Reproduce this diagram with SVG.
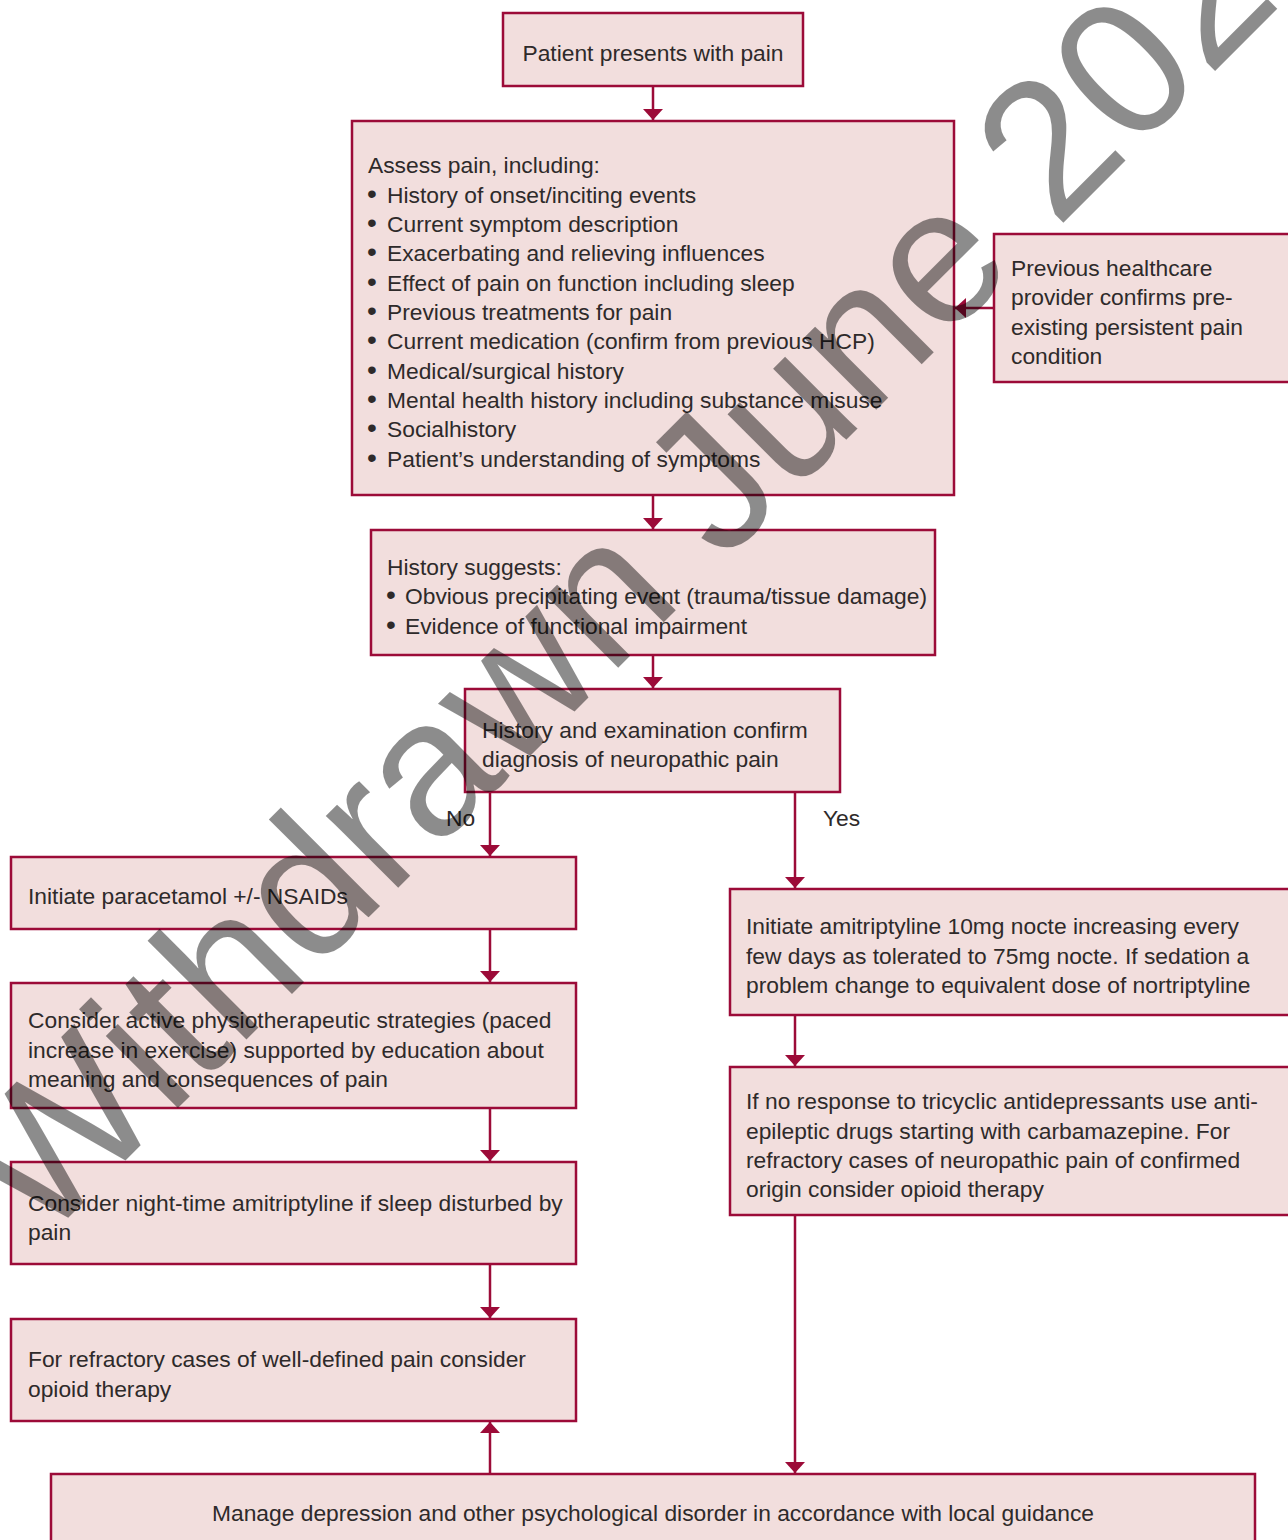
<svg xmlns="http://www.w3.org/2000/svg" width="1288" height="1540" viewBox="0 0 1288 1540">
<defs>
<style>
.box{fill:#f2dedd;stroke:#9c0b38;stroke-width:2.5}
.t{font-family:"Liberation Sans",Arial,Helvetica,sans-serif;font-size:22.8px;fill:#2e2a2a}
.b{font-size:28px}
.c{stroke:#9c0b38;stroke-width:2.5;fill:none}
.wm{font-family:"Liberation Sans",Arial,Helvetica,sans-serif;font-size:193px;fill:#000;fill-opacity:0.45}
</style>
<marker id="ah" viewBox="0 0 11 20" refX="11" refY="10" markerWidth="11" markerHeight="20" markerUnits="userSpaceOnUse" orient="auto">
<path d="M0,0 L11,10 L0,20 Z" fill="#9c0b38"/>
</marker>
</defs>
<rect width="1288" height="1540" fill="#ffffff"/>

<g id="connectors">
<line class="c" x1="653" y1="86" x2="653" y2="120" marker-end="url(#ah)"/>
<line class="c" x1="653" y1="495" x2="653" y2="529" marker-end="url(#ah)"/>
<line class="c" x1="653" y1="655" x2="653" y2="688" marker-end="url(#ah)"/>
<line class="c" x1="994" y1="308" x2="955" y2="308" marker-end="url(#ah)"/>
<line class="c" x1="490" y1="792" x2="490" y2="856" marker-end="url(#ah)"/>
<line class="c" x1="795" y1="792" x2="795" y2="888" marker-end="url(#ah)"/>
<line class="c" x1="490" y1="929" x2="490" y2="982" marker-end="url(#ah)"/>
<line class="c" x1="490" y1="1108" x2="490" y2="1161" marker-end="url(#ah)"/>
<line class="c" x1="490" y1="1264" x2="490" y2="1318" marker-end="url(#ah)"/>
<line class="c" x1="490" y1="1474" x2="490" y2="1422" marker-end="url(#ah)"/>
<line class="c" x1="795" y1="1015" x2="795" y2="1066" marker-end="url(#ah)"/>
<line class="c" x1="795" y1="1215" x2="795" y2="1473" marker-end="url(#ah)"/>
<text class="t" x="446" y="826">No</text>
<text class="t" x="823" y="826">Yes</text>
</g>

<g id="n1">
<rect class="box" x="503" y="13" width="300" height="73"/>
<text class="t" x="653" y="61" text-anchor="middle">Patient presents with pain</text>
</g>

<g id="n2">
<rect class="box" x="352" y="121" width="602" height="374"/>
<text class="t" x="368" y="173">Assess pain, including:</text>
<text class="t" y="203"><tspan class="b" x="367">•</tspan><tspan x="387">History of onset/inciting events</tspan></text>
<text class="t" y="232"><tspan class="b" x="367">•</tspan><tspan x="387">Current symptom description</tspan></text>
<text class="t" y="261"><tspan class="b" x="367">•</tspan><tspan x="387">Exacerbating and relieving influences</tspan></text>
<text class="t" y="291"><tspan class="b" x="367">•</tspan><tspan x="387">Effect of pain on function including sleep</tspan></text>
<text class="t" y="320"><tspan class="b" x="367">•</tspan><tspan x="387">Previous treatments for pain</tspan></text>
<text class="t" y="349"><tspan class="b" x="367">•</tspan><tspan x="387">Current medication (confirm from previous HCP)</tspan></text>
<text class="t" y="379"><tspan class="b" x="367">•</tspan><tspan x="387">Medical/surgical history</tspan></text>
<text class="t" y="408"><tspan class="b" x="367">•</tspan><tspan x="387">Mental health history including substance misuse</tspan></text>
<text class="t" y="437"><tspan class="b" x="367">•</tspan><tspan x="387">Socialhistory</tspan></text>
<text class="t" y="467"><tspan class="b" x="367">•</tspan><tspan x="387">Patient’s understanding of symptoms</tspan></text>
</g>

<g id="n3">
<rect class="box" x="994" y="234" width="310" height="148"/>
<text class="t" x="1011" y="276">Previous healthcare</text>
<text class="t" x="1011" y="305">provider confirms pre-</text>
<text class="t" x="1011" y="335">existing persistent pain</text>
<text class="t" x="1011" y="364">condition</text>
</g>

<g id="n4">
<rect class="box" x="371" y="530" width="564" height="125"/>
<text class="t" x="387" y="575">History suggests:</text>
<text class="t" y="604"><tspan class="b" x="386">•</tspan><tspan x="405">Obvious precipitating event (trauma/tissue damage)</tspan></text>
<text class="t" y="634"><tspan class="b" x="386">•</tspan><tspan x="405">Evidence of functional impairment</tspan></text>
</g>

<g id="n5">
<rect class="box" x="465" y="689" width="375" height="103"/>
<text class="t" x="482" y="738">History and examination confirm</text>
<text class="t" x="482" y="767">diagnosis of neuropathic pain</text>
</g>

<g id="n6">
<rect class="box" x="11" y="857" width="565" height="72"/>
<text class="t" x="28" y="904">Initiate paracetamol +/- NSAIDs</text>
</g>

<g id="n7">
<rect class="box" x="11" y="983" width="565" height="125"/>
<text class="t" x="28" y="1028">Consider active physiotherapeutic strategies (paced</text>
<text class="t" x="28" y="1058">increase in exercise) supported by education about</text>
<text class="t" x="28" y="1087">meaning and consequences of pain</text>
</g>

<g id="n8">
<rect class="box" x="11" y="1162" width="565" height="102"/>
<text class="t" x="28" y="1211">Consider night-time amitriptyline if sleep disturbed by</text>
<text class="t" x="28" y="1240">pain</text>
</g>

<g id="n9">
<rect class="box" x="11" y="1319" width="565" height="102"/>
<text class="t" x="28" y="1367">For refractory cases of well-defined pain consider</text>
<text class="t" x="28" y="1397">opioid therapy</text>
</g>

<g id="n10">
<rect class="box" x="730" y="889" width="574" height="126"/>
<text class="t" x="746" y="934">Initiate amitriptyline 10mg nocte increasing every</text>
<text class="t" x="746" y="964">few days as tolerated to 75mg nocte. If sedation a</text>
<text class="t" x="746" y="993">problem change to equivalent dose of nortriptyline</text>
</g>

<g id="n11">
<rect class="box" x="730" y="1067" width="574" height="148"/>
<text class="t" x="746" y="1109">If no response to tricyclic antidepressants use anti-</text>
<text class="t" x="746" y="1139">epileptic drugs starting with carbamazepine. For</text>
<text class="t" x="746" y="1168">refractory cases of neuropathic pain of confirmed</text>
<text class="t" x="746" y="1197">origin consider opioid therapy</text>
</g>

<g id="n12">
<rect class="box" x="51" y="1474" width="1204" height="90"/>
<text class="t" x="653" y="1521" text-anchor="middle">Manage depression and other psychological disorder in accordance with local guidance</text>
</g>

<g id="watermark">
<text class="wm" transform="translate(40,1246) rotate(-45)">Withdrawn June 202</text>
</g>
</svg>
